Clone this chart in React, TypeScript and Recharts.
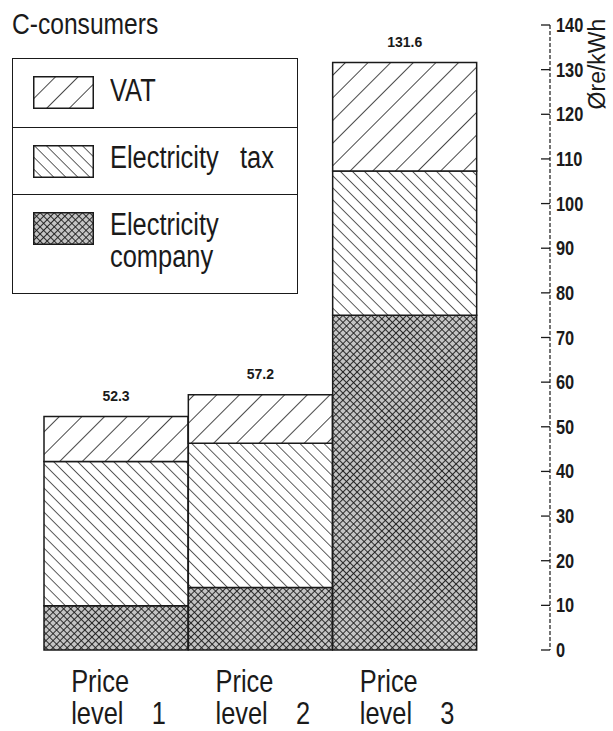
import { BarChart, Bar, XAxis, YAxis, Legend, LabelList } from 'recharts'

const categories = ['Price level 1', 'Price level 2', 'Price level 3']
const company = [9.9, 14.0, 75.0]
const tax = [32.3, 32.3, 32.3]
const vat = [10.1, 10.9, 24.3]
const totals = [52.3, 57.2, 131.6]
const yTicks = [0, 10, 20, 30, 40, 50, 60, 70, 80, 90, 100, 110, 120, 130, 140]
const seriesNames = ['VAT', 'Electricity   tax', 'Electricity company']

const data = categories.map((name, i) => ({
  name,
  company: company[i],
  tax: tax[i],
  vat: vat[i],
  total: totals[i],
}))

const FONT = "'Liberation Sans', Arial, sans-serif"
const INK = '#1a1a1a'
const SQUEEZE = 0.82

// condensed text, the installed fonts have no narrow cut
const Narrow = ({ x, y, size, bold, children }: any) => (
  <text
    transform={`translate(${x},${y}) scale(${SQUEEZE},1)`}
    fontFamily={FONT}
    fontSize={size}
    fontWeight={bold ? 'bold' : 'normal'}
    fill={INK}
    style={{ whiteSpace: 'pre' }}
  >
    {children}
  </text>
)

const XTick = ({ x, y, payload }: any) => {
  const words = String(payload.value).split(' ')
  return (
    <g>
      <Narrow x={x - 45} y={y + 42} size={31}>{words[0]}</Narrow>
      <Narrow x={x - 45} y={y + 74} size={31}>{words.slice(1).join('    ')}</Narrow>
    </g>
  )
}

const YTick = ({ x, y, payload }: any) => (
  <g>
    <line x1={x - 15} x2={x - 6} y1={y} y2={y} stroke={INK} strokeWidth={1.3} />
    <Narrow x={x} y={y + 7} size={20} bold>{payload.value}</Narrow>
  </g>
)

const TotalLabel = ({ x, y, width, index }: any) => (
  <text x={x + width / 2} y={y - 16} textAnchor="middle" fontFamily={FONT} fontWeight="bold" fontSize={14} fill={INK}>
    {totals[index]}
  </text>
)

const UnitLabel = ({ viewBox }: any) => {
  const cx = viewBox.x + viewBox.width - 8
  return (
    <text x={cx} y={64} textAnchor="middle" transform={`rotate(-90 ${cx} 64)`} fontFamily={FONT} fontSize={23} fill={INK}>
      Øre/kWh
    </text>
  )
}

const Swatch = ({ id }: { id: string }) => (
  <svg width={61} height={33} style={{ position: 'absolute', left: 20, top: 17 }}>
    <rect x={0.75} y={0.75} width={59.5} height={31.5} fill={`url(#${id})`} stroke={INK} strokeWidth={1.5} />
  </svg>
)

const LegendBox = () => {
  const text = {
    position: 'absolute' as const,
    left: 97,
    fontFamily: FONT,
    fontSize: 31,
    lineHeight: '32px',
    color: INK,
    whiteSpace: 'pre' as const,
    transform: `scaleX(${SQUEEZE})`,
    transformOrigin: 'left top',
  }
  const [first, second] = seriesNames[2].split(' ')
  return (
    <div style={{ width: 286, border: `1.5px solid ${INK}`, background: '#fff', boxSizing: 'border-box' }}>
      <div style={{ position: 'relative', height: 68 }}>
        <Swatch id="pat-vat" />
        <div style={{ ...text, top: 16 }}>{seriesNames[0]}</div>
      </div>
      <div style={{ position: 'relative', height: 66, borderTop: `1.5px solid ${INK}` }}>
        <Swatch id="pat-tax" />
        <div style={{ ...text, top: 14 }}>{seriesNames[1]}</div>
      </div>
      <div style={{ position: 'relative', height: 98, borderTop: `1.5px solid ${INK}` }}>
        <Swatch id="pat-company" />
        <div style={{ ...text, top: 14 }}>
          {first}
          <br />
          {second}
        </div>
      </div>
    </div>
  )
}

export default function App() {
  return (
    <div style={{ position: 'absolute', left: 0, top: 0, width: 613, height: 731, background: '#fff' }}>
      <div
        style={{
          position: 'absolute',
          left: 12,
          top: 7,
          fontFamily: FONT,
          fontSize: 30,
          color: INK,
          transform: `scaleX(${SQUEEZE})`,
          transformOrigin: 'left top',
        }}
      >
        C-consumers
      </div>
      <BarChart width={613} height={731} data={data} margin={{ top: 25, right: 0, left: 44, bottom: 6 }} barCategoryGap={0}>
        <defs>
          <pattern id="pat-vat" patternUnits="userSpaceOnUse" width={16} height={16} patternTransform="rotate(45)">
            <rect width={16} height={16} fill="#fff" />
            <line x1={0} y1={0} x2={0} y2={16} stroke={INK} strokeWidth={1.6} />
          </pattern>
          <pattern id="pat-tax" patternUnits="userSpaceOnUse" width={8.5} height={8.5} patternTransform="rotate(-45)">
            <rect width={8.5} height={8.5} fill="#fff" />
            <line x1={0} y1={0} x2={0} y2={8.5} stroke={INK} strokeWidth={1.4} />
          </pattern>
          <pattern id="pat-company" patternUnits="userSpaceOnUse" width={5} height={5} patternTransform="rotate(45)">
            <rect width={5} height={5} fill="#c4c4c4" />
            <line x1={0} y1={0} x2={0} y2={5} stroke={INK} strokeWidth={1.8} />
            <line x1={0} y1={0} x2={5} y2={0} stroke={INK} strokeWidth={1.8} />
          </pattern>
        </defs>
        <XAxis
          dataKey="name"
          axisLine={false}
          tickLine={false}
          tickSize={0}
          tickMargin={0}
          height={75}
          padding={{ left: 0, right: 73 }}
          tick={<XTick />}
          interval={0}
        />
        <YAxis
          orientation="right"
          width={63}
          domain={[0, 140]}
          ticks={yTicks}
          interval={0}
          tickLine={false}
          tickSize={0}
          tickMargin={6}
          axisLine={{ stroke: INK, strokeWidth: 1.2, strokeDasharray: '4 2' }}
          tick={<YTick />}
          label={<UnitLabel />}
        />
        <Legend
          layout="vertical"
          align="center"
          verticalAlign="middle"
          wrapperStyle={{ left: 12, top: 58, width: 286 }}
          content={<LegendBox />}
        />
        <Bar dataKey="company" stackId="a" fill="url(#pat-company)" stroke={INK} strokeWidth={1.5} isAnimationActive={false} />
        <Bar dataKey="tax" stackId="a" fill="url(#pat-tax)" stroke={INK} strokeWidth={1.5} isAnimationActive={false} />
        <Bar dataKey="vat" stackId="a" fill="url(#pat-vat)" stroke={INK} strokeWidth={1.5} isAnimationActive={false}>
          <LabelList dataKey="total" content={<TotalLabel />} />
        </Bar>
      </BarChart>
    </div>
  )
}
